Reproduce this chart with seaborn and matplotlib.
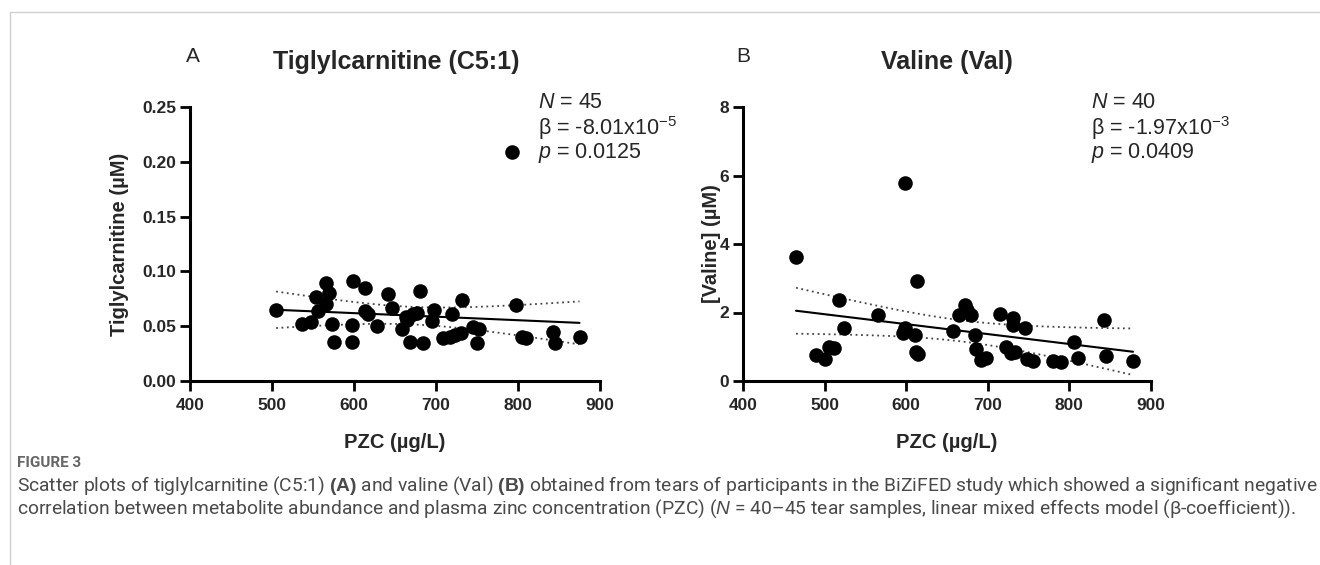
import numpy as np
import matplotlib
matplotlib.use("Agg")
import matplotlib.pyplot as plt
import seaborn as sns
from matplotlib.lines import Line2D

# panel A: tiglylcarnitine (C5:1) vs plasma zinc (PZC)
pzc_a = [505, 537, 547, 554, 556, 566, 570, 566, 573, 575,
         599, 598, 598, 614, 613, 617, 628, 642, 646, 658,
         664, 665, 668, 672, 677, 680, 684, 695, 698, 708,
         717, 720, 723, 730, 732, 745, 750, 753, 793, 798,
         805, 810, 843, 845, 875]
c51_a = [0.065, 0.052, 0.054, 0.077, 0.064, 0.089, 0.080, 0.070, 0.052, 0.036,
         0.091, 0.051, 0.036, 0.085, 0.064, 0.061, 0.050, 0.079, 0.067, 0.047,
         0.058, 0.056, 0.036, 0.061, 0.062, 0.082, 0.035, 0.055, 0.065, 0.039,
         0.040, 0.061, 0.042, 0.044, 0.074, 0.049, 0.035, 0.047, 0.209, 0.069,
         0.040, 0.039, 0.045, 0.035, 0.040]

# panel B: valine vs plasma zinc
pzc_b = [465, 490, 500, 505, 512, 518, 524, 566, 596, 598,
         599, 611, 612, 613, 614, 657, 665, 672, 675, 679,
         684, 685, 692, 698, 715, 722, 728, 731, 731, 733,
         745, 748, 755, 780, 790, 806, 810, 843, 845, 878]
val_b = [3.62, 0.75, 0.65, 1.00, 0.95, 2.36, 1.54, 1.94, 1.39, 1.55,
         5.78, 1.34, 0.85, 2.91, 0.78, 1.47, 1.94, 2.22, 2.07, 1.92,
         1.34, 0.92, 0.60, 0.68, 1.96, 0.98, 0.82, 1.85, 1.63, 0.85,
         1.56, 0.65, 0.57, 0.57, 0.55, 1.13, 0.68, 1.79, 0.72, 0.57]

# fitted line (intercept, slope) and CI scale (t*s)
fit_a = (0.0813, -3.23e-5)
fit_b = (3.40, -0.0029)
ci_ts_a = 0.0537
ci_ts_b = 1.95

stats_a = ["45", r"-8.01x10$^{-5}$", "0.0125"]
stats_b = ["40", r"-1.97x10$^{-3}$", "0.0409"]

W, H = 1320, 565

sns.set_style("ticks")
plt.rcParams['font.family'] = ['Liberation Sans', 'DejaVu Sans']
plt.rcParams['mathtext.fontset'] = 'custom'
plt.rcParams['mathtext.rm'] = 'Liberation Sans'
plt.rcParams['mathtext.it'] = 'Liberation Sans:italic'
plt.rcParams['mathtext.bf'] = 'Liberation Sans:bold'


def px(x, y):
    return x / W, 1 - y / H


def fit_lines(x, intercept, slope, ts):
    x = np.asarray(x, dtype=float)
    xs = np.linspace(x.min(), x.max(), 100)
    yhat = intercept + slope * xs
    sxx = ((x - x.mean()) ** 2).sum()
    hw = ts * np.sqrt(1 / len(x) + (xs - x.mean()) ** 2 / sxx)
    return xs, yhat, yhat - hw, yhat + hw


def draw_panel(ax, x, y, fit, ts, ylim, yticks, yfmt, ylabel, ylab_x):
    xs, yhat, lo, hi = fit_lines(x, fit[0], fit[1], ts)
    sns.lineplot(x=xs, y=yhat, color='black', lw=1.5, ax=ax)
    for band in (lo, hi):
        sns.lineplot(x=xs, y=band, color='#444444', lw=1.3,
                     linestyle=(0, (1, 2)), ax=ax)
    sns.scatterplot(x=x, y=y, color='black', s=110, linewidth=0, ax=ax,
                    zorder=3, clip_on=False)
    ax.set_xlim(400, 900)
    ax.set_ylim(*ylim)
    ax.set_xticks([400, 500, 600, 700, 800, 900])
    ax.set_yticks(yticks)
    ax.set_yticklabels([yfmt.format(t) for t in yticks])
    ax.tick_params(width=2, length=7, labelsize=12.5, color='black')
    ax.tick_params(axis='x', pad=5)
    ax.tick_params(axis='y', pad=3)
    for lab in ax.get_xticklabels() + ax.get_yticklabels():
        lab.set_fontweight('bold')
    for s in ('top', 'right'):
        ax.spines[s].set_visible(False)
    for s in ('left', 'bottom'):
        ax.spines[s].set_linewidth(2.2)
        ax.spines[s].set_color('black')
    ax.set_xlabel('PZC (µg/L)', fontsize=14.5, fontweight='bold')
    ax.set_ylabel(ylabel, fontsize=14.5, fontweight='bold')
    ax.xaxis.set_label_coords(0.5, -0.19)
    ax.yaxis.set_label_coords(ylab_x, 0.5)


fig = plt.figure(figsize=(W / 100, H / 100), dpi=100)
ax_a = fig.add_axes([190 / W, 1 - 381 / H, 410 / W, 274 / H])
ax_b = fig.add_axes([743 / W, 1 - 381 / H, 408 / W, 274 / H])

draw_panel(ax_a, pzc_a, c51_a, fit_a, ci_ts_a, (0, 0.25),
           [0, 0.05, 0.10, 0.15, 0.20, 0.25], '{:.2f}',
           'Tiglylcarnitine (µM)', -0.15)
draw_panel(ax_b, pzc_b, val_b, fit_b, ci_ts_b, (0, 8),
           [0, 2, 4, 6, 8], '{:.0f}', '[Valine] (µM)', -0.055)

# titles and panel letters
fig.text(*px(396, 62), 'Tiglylcarnitine (C5:1)', fontsize=18,
         fontweight='bold', ha='center', va='center')
fig.text(*px(947, 62), 'Valine (Val)', fontsize=18,
         fontweight='bold', ha='center', va='center')
fig.text(*px(193, 57), 'A', fontsize=15, ha='center', va='center')
fig.text(*px(743, 57), 'B', fontsize=15, ha='center', va='center')

# stats
for x0, st in ((538, stats_a), (1091, stats_b)):
    fig.text(*px(x0, 102), r'$\mathit{N}$ = ' + st[0], fontsize=15.5, va='center')
    fig.text(*px(x0, 128), 'β = ' + st[1], fontsize=15.5, va='center')
    fig.text(*px(x0, 153), r'$\mathit{p}$ = ' + st[2], fontsize=15.5, va='center')

# frame of the figure box
fig.add_artist(Line2D([10 / W, 10 / W], [0, 1 - 12 / H], color='#d0d0d0', lw=1))
fig.add_artist(Line2D([10 / W, 1], [1 - 12 / H, 1 - 12 / H], color='#d0d0d0', lw=1))

# caption
cap_font = ['Roboto', 'DejaVu Sans']
fig.text(*px(17, 463), 'FIGURE 3', fontsize=11, fontweight='bold',
         color='#666666', va='center', family=cap_font)
fig.text(*px(17, 486),
         r'Scatter plots of tiglylcarnitine (C5:1) $\mathbf{(A)}$ and valine (Val) '
         r'$\mathbf{(B)}$ obtained from tears of participants in the BiZiFED study '
         r'which showed a significant negative',
         fontsize=13.9, color='#4a4a4a', va='center', family=cap_font)
fig.text(*px(17, 509),
         r'correlation between metabolite abundance and plasma zinc concentration '
         r'(PZC) ($\mathit{N}$ = 40–45 tear samples, linear mixed effects model '
         r'(β-coefficient)).',
         fontsize=13.9, color='#4a4a4a', va='center', family=cap_font)

fig.savefig('out.png', dpi=100)
